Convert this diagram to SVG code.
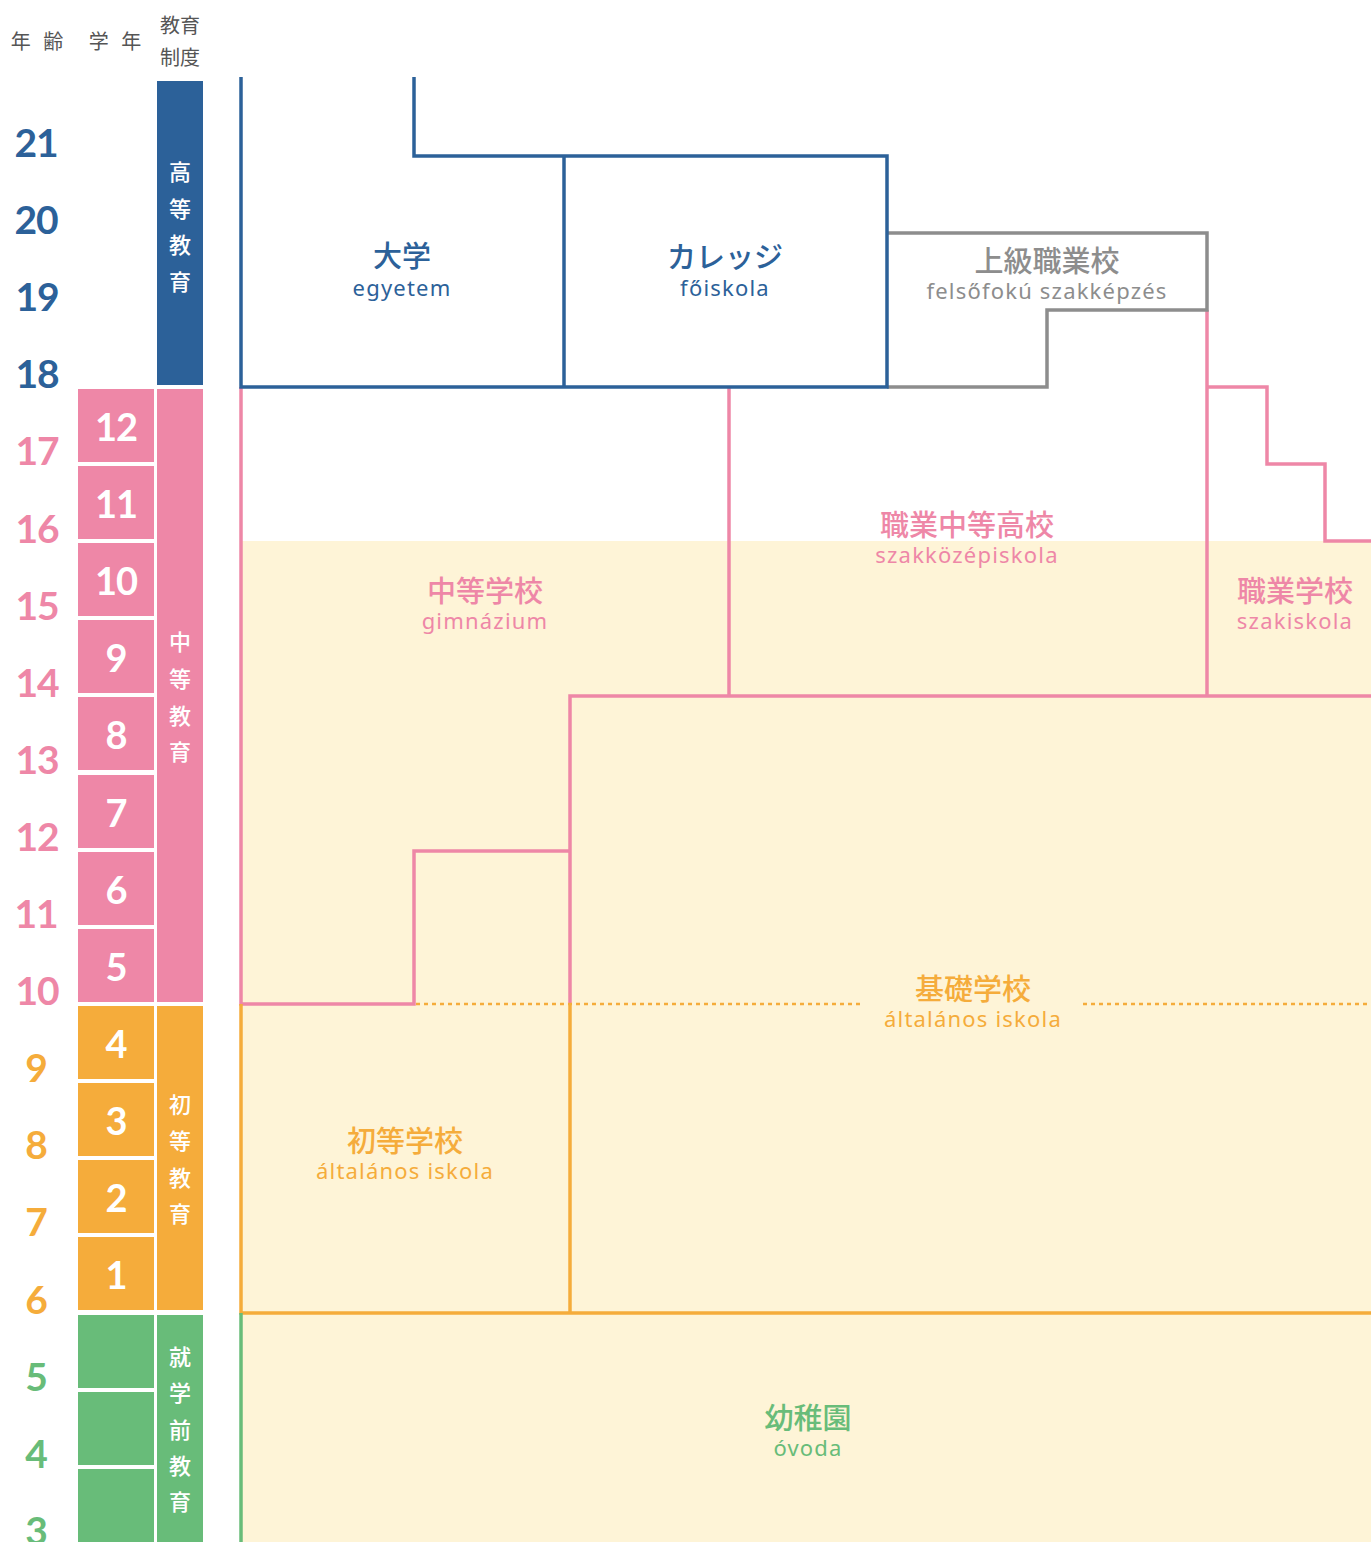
<svg xmlns="http://www.w3.org/2000/svg" width="1371" height="1542" viewBox="0 0 1371 1542">
<style>
.hd{font-family:"Noto Sans CJK JP","Noto Sans",sans-serif;font-size:20px;fill:#555;text-anchor:middle}
.hs{letter-spacing:4px}
.age{font-family:Lato,"Liberation Sans",sans-serif;font-weight:700;font-size:39px;text-anchor:middle;letter-spacing:-1px}
.gr{font-family:Lato,"Liberation Sans",sans-serif;font-weight:700;font-size:38px;fill:#fff;text-anchor:middle;letter-spacing:-1px}
.ed{font-family:"Noto Sans CJK JP",sans-serif;font-weight:500;font-size:22px;fill:#fff;text-anchor:middle}
.jp{font-family:"Noto Sans CJK JP",sans-serif;font-weight:500;font-size:29px;text-anchor:middle}
.hu{font-family:"Noto Sans","Open Sans",sans-serif;font-size:22px;text-anchor:middle;letter-spacing:1.2px}
.blue{fill:#2c6199}.pink{fill:#ee87a7}.orange{fill:#f5ac3b}.green{fill:#68bc79}.gray{fill:#8d8d8d}
.ln{fill:none;stroke-width:3.5}
.lb{stroke:#2c6199}.lp{stroke:#ee87a7}.lo{stroke:#f5ac3b}.lg{stroke:#68bc79}.lgr{stroke:#8d8d8d}
</style>
<rect width="1371" height="1542" fill="#fff"/>
<rect x="241" y="541" width="1130" height="1001" fill="#fef4d7"/>

<g id="header">
<text class="hd hs" x="39" y="49">年 齢</text>
<text class="hd hs" x="117" y="49">学 年</text>
<text class="hd" x="180" y="33">教育</text>
<text class="hd" x="180" y="65">制度</text>
</g>

<g id="ages">
<text class="age blue" x="36" y="157">21</text>
<text class="age blue" x="36" y="234">20</text>
<text class="age blue" x="37" y="311">19</text>
<text class="age blue" x="37" y="388">18</text>
<text class="age pink" x="37" y="465">17</text>
<text class="age pink" x="37" y="543">16</text>
<text class="age pink" x="37" y="620">15</text>
<text class="age pink" x="37" y="697">14</text>
<text class="age pink" x="37" y="774">13</text>
<text class="age pink" x="37" y="851">12</text>
<text class="age pink" x="36" y="928">11</text>
<text class="age pink" x="37" y="1005">10</text>
<text class="age orange" x="36" y="1082">9</text>
<text class="age orange" x="36" y="1159">8</text>
<text class="age orange" x="36" y="1236">7</text>
<text class="age orange" x="36" y="1314">6</text>
<text class="age green" x="36" y="1391">5</text>
<text class="age green" x="36" y="1468">4</text>
<text class="age green" x="36" y="1545">3</text>
</g>

<g id="grades">
<rect class="pink" x="78" y="389" width="76" height="73"/>
<rect class="pink" x="78" y="466" width="76" height="73"/>
<rect class="pink" x="78" y="543" width="76" height="73"/>
<rect class="pink" x="78" y="620" width="76" height="73"/>
<rect class="pink" x="78" y="697" width="76" height="73"/>
<rect class="pink" x="78" y="775" width="76" height="73"/>
<rect class="pink" x="78" y="852" width="76" height="73"/>
<rect class="pink" x="78" y="929" width="76" height="73"/>
<rect class="orange" x="78" y="1006" width="76" height="73"/>
<rect class="orange" x="78" y="1083" width="76" height="73"/>
<rect class="orange" x="78" y="1160" width="76" height="73"/>
<rect class="orange" x="78" y="1237" width="76" height="73"/>
<rect class="green" x="78" y="1315" width="76" height="73"/>
<rect class="green" x="78" y="1392" width="76" height="73"/>
<rect class="green" x="78" y="1469" width="76" height="73"/>
<text class="gr" x="116" y="441">12</text>
<text class="gr" x="116" y="518">11</text>
<text class="gr" x="116" y="595">10</text>
<text class="gr" x="116" y="672">9</text>
<text class="gr" x="116" y="749">8</text>
<text class="gr" x="116" y="827">7</text>
<text class="gr" x="116" y="904">6</text>
<text class="gr" x="116" y="981">5</text>
<text class="gr" x="116" y="1058">4</text>
<text class="gr" x="116" y="1135">3</text>
<text class="gr" x="116" y="1212">2</text>
<text class="gr" x="116" y="1289">1</text>
</g>

<g id="stages">
<rect class="blue" x="157" y="81" width="46" height="304"/>
<rect class="pink" x="157" y="389" width="46" height="613"/>
<rect class="orange" x="157" y="1006" width="46" height="304"/>
<rect class="green" x="157" y="1315" width="46" height="227"/>
<text class="ed" x="180" y="180">高</text>
<text class="ed" x="180" y="217">等</text>
<text class="ed" x="180" y="253">教</text>
<text class="ed" x="180" y="290">育</text>
<text class="ed" x="180" y="650">中</text>
<text class="ed" x="180" y="687">等</text>
<text class="ed" x="180" y="724">教</text>
<text class="ed" x="180" y="760">育</text>
<text class="ed" x="180" y="1113">初</text>
<text class="ed" x="180" y="1149">等</text>
<text class="ed" x="180" y="1186">教</text>
<text class="ed" x="180" y="1222">育</text>
<text class="ed" x="180" y="1365">就</text>
<text class="ed" x="180" y="1401">学</text>
<text class="ed" x="180" y="1438">前</text>
<text class="ed" x="180" y="1474">教</text>
<text class="ed" x="180" y="1510">育</text>
</g>

<g id="connectors">
<path class="ln lp" d="M241 387V1004H414V851H570"/>
<path class="ln lp" d="M570 1004V696H1371"/>
<path class="ln lp" d="M729 387V696"/>
<path class="ln lp" d="M1207 310V696"/>
<path class="ln lp" d="M1207 387H1267V464H1325V541H1371"/>
<path class="ln lo" d="M241 1004V1313H1371"/>
<path class="ln lo" d="M570 1004V1313"/>
<path fill="none" stroke="#f5ac3b" stroke-width="2.5" stroke-dasharray="4 4" d="M416 1004H862M1083 1004H1371"/>
<path class="ln lg" d="M241 1313V1542"/>
<path class="ln lgr" d="M887 233H1207V310H1047V387H887"/>
<path class="ln lb" d="M241 77V387H887V156H414V77"/>
<path class="ln lb" d="M564 156V387"/>
</g>

<g id="daigaku">
<text class="jp blue" x="402" y="267">大学</text>
<text class="hu blue" x="402" y="296">egyetem</text>
</g>
<g id="college">
<text class="jp blue" x="725" y="268">カレッジ</text>
<text class="hu blue" x="725" y="296">főiskola</text>
</g>
<g id="jokyu">
<text class="jp gray" x="1047" y="272">上級職業校</text>
<text class="hu gray" x="1047" y="299">felsőfokú szakképzés</text>
</g>
<g id="shokugyo-chuto">
<text class="jp pink" x="967" y="536">職業中等高校</text>
<text class="hu pink" x="967" y="563">szakközépiskola</text>
</g>
<g id="chuto">
<text class="jp pink" x="485" y="602">中等学校</text>
<text class="hu pink" x="485" y="629">gimnázium</text>
</g>
<g id="shokugyo">
<text class="jp pink" x="1295" y="602">職業学校</text>
<text class="hu pink" x="1295" y="629">szakiskola</text>
</g>
<g id="kiso">
<text class="jp orange" x="973" y="1000">基礎学校</text>
<text class="hu orange" x="973" y="1027">általános iskola</text>
</g>
<g id="shoto">
<text class="jp orange" x="405" y="1152">初等学校</text>
<text class="hu orange" x="405" y="1179">általános iskola</text>
</g>
<g id="yochien">
<text class="jp green" x="808" y="1429">幼稚園</text>
<text class="hu green" x="808" y="1456">óvoda</text>
</g>
</svg>
